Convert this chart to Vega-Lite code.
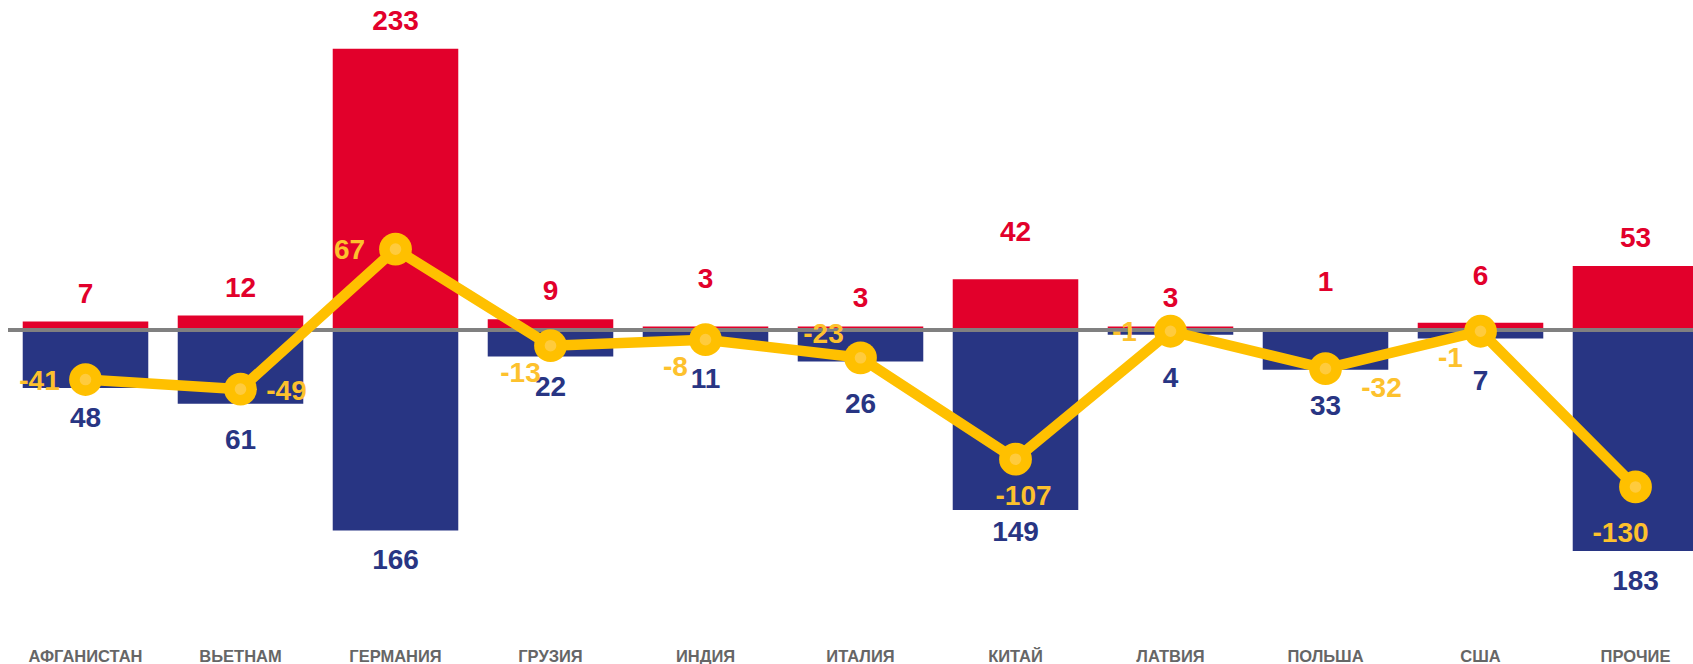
{
  "$schema": "https://vega.github.io/schema/vega-lite/v6.json",
  "width": 1685,
  "height": 630,
  "autosize": {"type": "none"},
  "padding": {"left": 8, "top": 0, "right": 0, "bottom": 34},
  "background": "white",
  "config": {"view": {"stroke": null}},
  "data": {
    "values": [
      {"c": "АФГАНИСТАН", "exp": 7, "imp": 48, "bal": -41},
      {"c": "ВЬЕТНАМ", "exp": 12, "imp": 61, "bal": -49},
      {"c": "ГЕРМАНИЯ", "exp": 233, "imp": 166, "bal": 67},
      {"c": "ГРУЗИЯ", "exp": 9, "imp": 22, "bal": -13},
      {"c": "ИНДИЯ", "exp": 3, "imp": 11, "bal": -8},
      {"c": "ИТАЛИЯ", "exp": 3, "imp": 26, "bal": -23},
      {"c": "КИТАЙ", "exp": 42, "imp": 149, "bal": -107},
      {"c": "ЛАТВИЯ", "exp": 3, "imp": 4, "bal": -1},
      {"c": "ПОЛЬША", "exp": 1, "imp": 33, "bal": -32},
      {"c": "США", "exp": 6, "imp": 7, "bal": -1},
      {"c": "ПРОЧИЕ", "exp": 53, "imp": 183, "bal": -130}
    ]
  },
  "transform": [{"calculate": "-datum.imp", "as": "impNeg"}],
  "encoding": {
    "x": {
      "field": "c",
      "type": "nominal",
      "sort": null,
      "title": null,
      "scale": {"range": [0, 1705], "paddingInner": 0.19, "paddingOuter": 0.095},
      "axis": {
        "labelAngle": 0,
        "ticks": false,
        "tickSize": 0,
        "domain": false,
        "grid": false,
        "labelPadding": 31,
        "labelBaseline": "alphabetic",
        "labelFont": "Liberation Sans",
        "labelFontWeight": "bold",
        "labelFontSize": 16.5,
        "labelColor": "#666666"
      }
    }
  },
  "layer": [
    {
      "mark": {"type": "bar", "color": "#E2002B"},
      "encoding": {"y": {"field": "exp", "type": "quantitative", "scale": {"domain": [-248.5, 273.4], "nice": false, "zero": false}, "axis": null}}
    },
    {
      "mark": {"type": "bar", "color": "#283583"},
      "encoding": {"y": {"field": "impNeg", "type": "quantitative", "scale": {"domain": [-248.5, 273.4], "nice": false, "zero": false}, "axis": null}}
    },
    {
      "mark": {"type": "rule", "color": "#808080", "strokeWidth": 3},
      "encoding": {"y": {"datum": 0, "type": "quantitative", "scale": {"domain": [-248.5, 273.4], "nice": false, "zero": false}, "axis": null}, "x": null}
    },
    {
      "mark": {"type": "line", "color": "#FFC000", "strokeWidth": 10.5, "strokeJoin": "round"},
      "encoding": {"y": {"field": "bal", "type": "quantitative", "scale": {"domain": [-248.5, 273.4], "nice": false, "zero": false}, "axis": null}}
    },
    {
      "mark": {"type": "point", "shape": "circle", "filled": true, "color": "#FFC000", "size": 1075, "opacity": 1},
      "encoding": {"y": {"field": "bal", "type": "quantitative", "scale": {"domain": [-248.5, 273.4], "nice": false, "zero": false}, "axis": null}}
    },
    {
      "mark": {"type": "point", "shape": "circle", "filled": true, "color": "#FFCB3D", "size": 135, "opacity": 1},
      "encoding": {"y": {"field": "bal", "type": "quantitative", "scale": {"domain": [-248.5, 273.4], "nice": false, "zero": false}, "axis": null}}
    },
    {
      "transform": [{"filter": {"field": "c", "oneOf": ["АФГАНИСТАН", "ВЬЕТНАМ", "ГЕРМАНИЯ", "ГРУЗИЯ", "ИТАЛИЯ", "ЛАТВИЯ", "ПРОЧИЕ"]}}],
      "mark": {"type": "text", "font": "Liberation Sans", "fontWeight": "bold", "fontSize": 28, "color": "#E2002B", "baseline": "middle", "align": "center", "dy": -27},
      "encoding": {"y": {"field": "exp", "type": "quantitative", "scale": {"domain": [-248.5, 273.4], "nice": false, "zero": false}, "axis": null}, "text": {"field": "exp"}}
    },
    {
      "transform": [{"filter": {"field": "c", "oneOf": ["ИНДИЯ", "КИТАЙ", "ПОЛЬША", "США"]}}],
      "mark": {"type": "text", "font": "Liberation Sans", "fontWeight": "bold", "fontSize": 28, "color": "#E2002B", "baseline": "middle", "align": "center", "dy": -46},
      "encoding": {"y": {"field": "exp", "type": "quantitative", "scale": {"domain": [-248.5, 273.4], "nice": false, "zero": false}, "axis": null}, "text": {"field": "exp"}}
    },
    {
      "transform": [{"filter": {"field": "c", "oneOf": ["АФГАНИСТАН", "ГЕРМАНИЯ", "ГРУЗИЯ", "ПРОЧИЕ"]}}],
      "mark": {"type": "text", "font": "Liberation Sans", "fontWeight": "bold", "fontSize": 28, "color": "#283583", "baseline": "middle", "align": "center", "dy": 31},
      "encoding": {"y": {"field": "impNeg", "type": "quantitative", "scale": {"domain": [-248.5, 273.4], "nice": false, "zero": false}, "axis": null}, "text": {"field": "imp"}}
    },
    {
      "transform": [{"filter": {"field": "c", "oneOf": ["ВЬЕТНАМ", "ИНДИЯ", "ПОЛЬША"]}}],
      "mark": {"type": "text", "font": "Liberation Sans", "fontWeight": "bold", "fontSize": 28, "color": "#283583", "baseline": "middle", "align": "center", "dy": 37},
      "encoding": {"y": {"field": "impNeg", "type": "quantitative", "scale": {"domain": [-248.5, 273.4], "nice": false, "zero": false}, "axis": null}, "text": {"field": "imp"}}
    },
    {
      "transform": [{"filter": {"field": "c", "oneOf": ["ИТАЛИЯ", "ЛАТВИЯ", "США"]}}],
      "mark": {"type": "text", "font": "Liberation Sans", "fontWeight": "bold", "fontSize": 28, "color": "#283583", "baseline": "middle", "align": "center", "dy": 44},
      "encoding": {"y": {"field": "impNeg", "type": "quantitative", "scale": {"domain": [-248.5, 273.4], "nice": false, "zero": false}, "axis": null}, "text": {"field": "imp"}}
    },
    {
      "transform": [{"filter": {"field": "c", "oneOf": ["КИТАЙ"]}}],
      "mark": {"type": "text", "font": "Liberation Sans", "fontWeight": "bold", "fontSize": 28, "color": "#283583", "baseline": "middle", "align": "center", "dy": 23},
      "encoding": {"y": {"field": "impNeg", "type": "quantitative", "scale": {"domain": [-248.5, 273.4], "nice": false, "zero": false}, "axis": null}, "text": {"field": "imp"}}
    },
    {
      "transform": [{"filter": {"field": "c", "oneOf": ["АФГАНИСТАН", "ГЕРМАНИЯ", "ЛАТВИЯ"]}}],
      "mark": {"type": "text", "font": "Liberation Sans", "fontWeight": "bold", "fontSize": 28, "color": "#FDC12D", "baseline": "middle", "align": "center", "dx": -46, "dy": 2},
      "encoding": {"y": {"field": "bal", "type": "quantitative", "scale": {"domain": [-248.5, 273.4], "nice": false, "zero": false}, "axis": null}, "text": {"field": "bal"}}
    },
    {
      "transform": [{"filter": {"field": "c", "oneOf": ["ВЬЕТНАМ"]}}],
      "mark": {"type": "text", "font": "Liberation Sans", "fontWeight": "bold", "fontSize": 28, "color": "#FDC12D", "baseline": "middle", "align": "center", "dx": 46, "dy": 3},
      "encoding": {"y": {"field": "bal", "type": "quantitative", "scale": {"domain": [-248.5, 273.4], "nice": false, "zero": false}, "axis": null}, "text": {"field": "bal"}}
    },
    {
      "transform": [{"filter": {"field": "c", "oneOf": ["ГРУЗИЯ", "ИНДИЯ", "США"]}}],
      "mark": {"type": "text", "font": "Liberation Sans", "fontWeight": "bold", "fontSize": 28, "color": "#FDC12D", "baseline": "middle", "align": "center", "dx": -30, "dy": 28},
      "encoding": {"y": {"field": "bal", "type": "quantitative", "scale": {"domain": [-248.5, 273.4], "nice": false, "zero": false}, "axis": null}, "text": {"field": "bal"}}
    },
    {
      "transform": [{"filter": {"field": "c", "oneOf": ["ИТАЛИЯ"]}}],
      "mark": {"type": "text", "font": "Liberation Sans", "fontWeight": "bold", "fontSize": 28, "color": "#FDC12D", "baseline": "middle", "align": "center", "dx": -37, "dy": -23},
      "encoding": {"y": {"field": "bal", "type": "quantitative", "scale": {"domain": [-248.5, 273.4], "nice": false, "zero": false}, "axis": null}, "text": {"field": "bal"}}
    },
    {
      "transform": [{"filter": {"field": "c", "oneOf": ["КИТАЙ"]}}],
      "mark": {"type": "text", "font": "Liberation Sans", "fontWeight": "bold", "fontSize": 28, "color": "#FDC12D", "baseline": "middle", "align": "center", "dx": 8, "dy": 38},
      "encoding": {"y": {"field": "bal", "type": "quantitative", "scale": {"domain": [-248.5, 273.4], "nice": false, "zero": false}, "axis": null}, "text": {"field": "bal"}}
    },
    {
      "transform": [{"filter": {"field": "c", "oneOf": ["ПОЛЬША"]}}],
      "mark": {"type": "text", "font": "Liberation Sans", "fontWeight": "bold", "fontSize": 28, "color": "#FDC12D", "baseline": "middle", "align": "center", "dx": 56, "dy": 20},
      "encoding": {"y": {"field": "bal", "type": "quantitative", "scale": {"domain": [-248.5, 273.4], "nice": false, "zero": false}, "axis": null}, "text": {"field": "bal"}}
    },
    {
      "transform": [{"filter": {"field": "c", "oneOf": ["ПРОЧИЕ"]}}],
      "mark": {"type": "text", "font": "Liberation Sans", "fontWeight": "bold", "fontSize": 28, "color": "#FDC12D", "baseline": "middle", "align": "center", "dx": -15, "dy": 47},
      "encoding": {"y": {"field": "bal", "type": "quantitative", "scale": {"domain": [-248.5, 273.4], "nice": false, "zero": false}, "axis": null}, "text": {"field": "bal"}}
    }
  ]
}
